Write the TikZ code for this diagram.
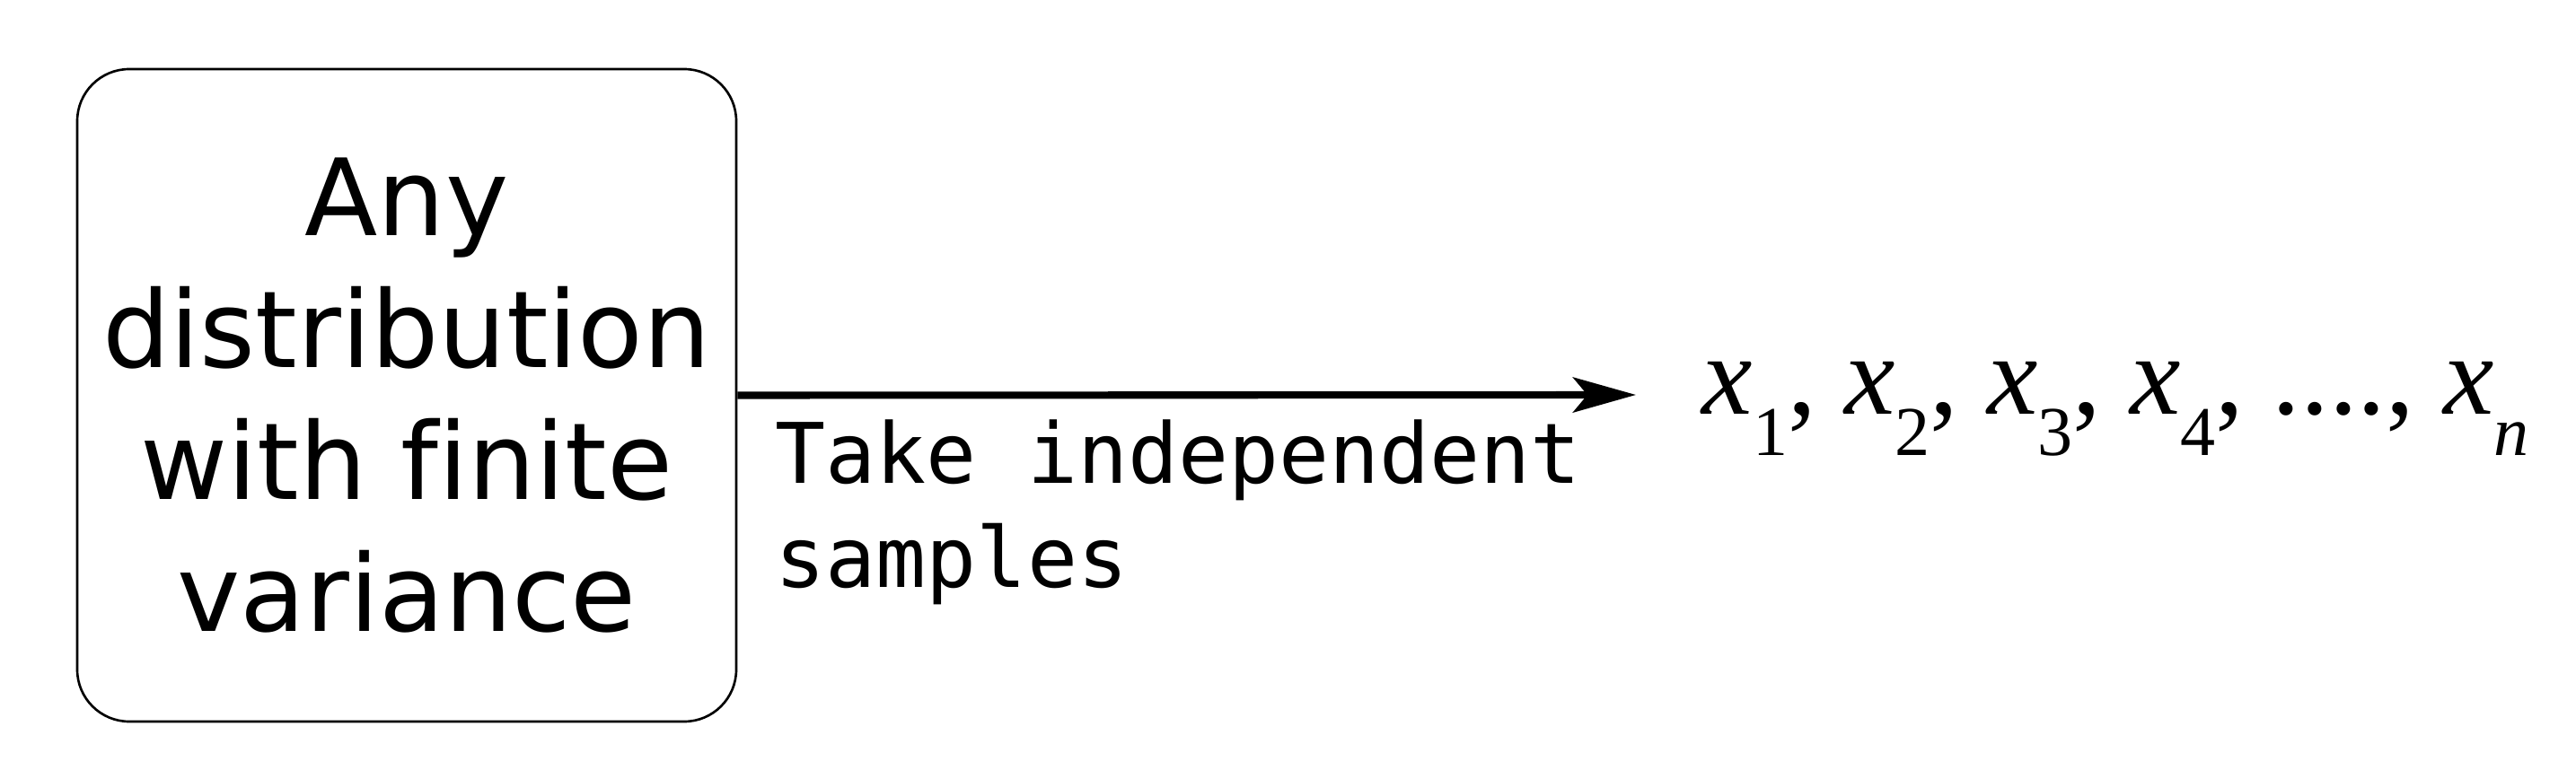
\documentclass[tikz,border=0pt]{standalone}
\usepackage{fontspec}
\setmainfont[Ligatures=NoCommon]{DejaVu Sans}
\setmonofont{DejaVu Sans Mono}
\newfontfamily\timesfont{Liberation Serif}
\usetikzlibrary{arrows.meta}

\newcommand\xsub[1]{\textit{x}\raisebox{-0.46cm}{\fontsize{22.2}{22.2}\selectfont #1}}

\begin{document}
\begin{tikzpicture}[
    distbox/.style={draw, line width=0.75pt, rounded corners=0.58cm,
        minimum width=7.34cm, minimum height=7.27cm, inner sep=0pt,
        align=center, font=\fontsize{33.8}{41.8}\selectfont},
    sampletext/.style={inner sep=0pt, align=left,
        font=\ttfamily\fontsize{26.5}{33}\selectfont}
]
    \useasboundingbox (0,0) rectangle (28.69,8.57);

    \node[distbox] (dist) at (4.53,4.165) {Any\\distribution\\with finite\\variance};

    \coordinate (tip) at (18.22,4.17);
    \draw[line width=2.3pt, -{Stealth[length=0.7cm, width=0.39cm, inset=0.16cm]}] (dist.east) -- (tip);

    \node[sampletext, anchor=north west] (take) at (8.63,3.90) {Take independent\\samples};

    \node[inner sep=0pt, anchor=base west, font=\timesfont\fontsize{36.1}{36.1}\selectfont] (samples) at (18.95,3.95)
        {\xsub{1}, \xsub{2}, \xsub{3}, \xsub{4}, ...., \xsub{\textit{n}}};

\end{tikzpicture}
\end{document}
